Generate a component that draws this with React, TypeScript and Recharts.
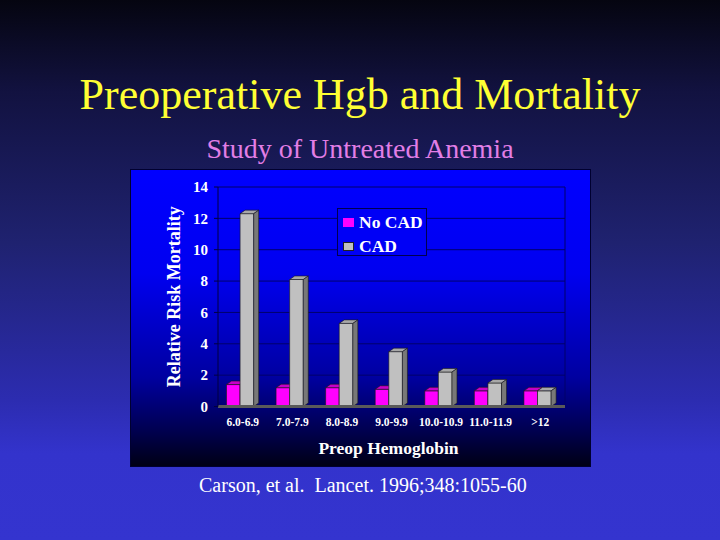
import { BarChart, Bar, XAxis, YAxis, CartesianGrid, Legend, Label } from "recharts";

const categories = ["6.0-6.9", "7.0-7.9", "8.0-8.9", "9.0-9.9", "10.0-10.9", "11.0-11.9", ">12"];
const noCad = [1.4, 1.2, 1.2, 1.1, 1.0, 1.0, 1.0];
const cad = [12.3, 8.1, 5.3, 3.5, 2.2, 1.5, 1.0];
const seriesNames = ["No CAD", "CAD"];
const yTicks = [0, 2, 4, 6, 8, 10, 12, 14];

const data = categories.map((name, i) => ({ name, noCad: noCad[i], cad: cad[i] }));

const SERIF = "Liberation Serif";
const DX = 5;
const DY = 3.5;

// excel-style 3D column: front face, lit top, shaded side
function bar3D(front: string, top: string, side: string) {
  return (props: any) => {
    const { x, y, width: w, height: h } = props;
    if (w == null || h == null || h <= 0) return <g />;
    const x0 = x - DX / 2;
    return (
      <g stroke="#1a1a1a" strokeWidth={0.6} strokeLinejoin="round">
        <rect x={x0} y={y} width={w} height={h} fill={front} />
        <polygon
          points={`${x0},${y} ${x0 + DX},${y - DY} ${x0 + w + DX},${y - DY} ${x0 + w},${y}`}
          fill={top}
        />
        <polygon
          points={`${x0 + w},${y} ${x0 + w + DX},${y - DY} ${x0 + w + DX},${y + h - DY} ${x0 + w},${y + h}`}
          fill={side}
        />
      </g>
    );
  };
}

const LegendBox = ({ payload }: any) => {
  const items = [...(payload || [])].sort(
    (a: any, b: any) => seriesNames.indexOf(a.value) - seriesNames.indexOf(b.value)
  );
  return (
    <div
      style={{
        width: 90,
        height: 48,
        border: "1px solid #000050",
        background: "#0000f6",
        boxSizing: "border-box",
        paddingTop: 4,
        fontFamily: SERIF,
        fontWeight: "bold",
        fontSize: 17.5,
        color: "#fff",
      }}
    >
      {items.map((p: any) => (
        <div key={p.value} style={{ display: "flex", alignItems: "center", height: 19, marginBottom: 5, paddingLeft: 5 }}>
          <span
            style={{
              display: "inline-block",
              width: 11,
              height: 9,
              background: p.color,
              border: p.color === "#c0c0c0" ? "1px solid #222" : "none",
              boxSizing: "border-box",
              marginRight: 5,
            }}
          />
          {p.value}
        </div>
      ))}
    </div>
  );
};

export default function App() {
  return (
    <div
      style={{
        position: "absolute",
        left: 0,
        top: 0,
        width: 720,
        height: 540,
        overflow: "hidden",
        background: "linear-gradient(180deg, #050510 0%, #121240 17%, #1f2270 45%, #2c2cb0 74%, #3333cc 84%, #3434cf 100%)",
      }}
    >
      <div
        style={{
          position: "absolute",
          top: 73,
          width: 720,
          textAlign: "center",
          fontFamily: SERIF,
          fontSize: 44,
          lineHeight: "44px",
          color: "#ffff33",
        }}
      >
        Preoperative Hgb and Mortality
      </div>
      <div
        style={{
          position: "absolute",
          top: 135,
          width: 720,
          textAlign: "center",
          fontFamily: SERIF,
          fontSize: 28,
          lineHeight: "28px",
          color: "#e27ee6",
        }}
      >
        Study of Untreated Anemia
      </div>

      <div
        style={{
          position: "absolute",
          left: 131,
          top: 170,
          width: 459,
          height: 296,
          outline: "1px solid #000030",
          background: "linear-gradient(180deg, #0000ff 0%, #0000f0 35%, #0000a0 70%, #000050 88%, #000015 100%)",
        }}
      >
        <BarChart
          width={459}
          height={296}
          data={data}
          margin={{ top: 17, right: 25, left: 0, bottom: 0 }}
          barGap={0}
          barSize={13.6}
        >
          <CartesianGrid
            stroke="#00006a"
            verticalCoordinatesGenerator={({ offset }: any) => [offset.left + offset.width]}
          />
          <XAxis
            dataKey="name"
            height={59.5}
            interval={0}
            tickLine={false}
            tickSize={0}
            tickMargin={11}
            axisLine={{ stroke: "#5a5a5a", strokeWidth: 3 }}
            tick={{ fill: "#fff", fontSize: 11.5, fontWeight: "bold", fontFamily: SERIF }}
          >
            <Label
              content={({ viewBox }: any) => (
                <text
                  x={viewBox.x + viewBox.width / 2 - 3}
                  y={viewBox.y + 47}
                  textAnchor="middle"
                  fill="#fff"
                  fontSize={17.5}
                  fontWeight="bold"
                  fontFamily={SERIF}
                >
                  Preop Hemoglobin
                </text>
              )}
            />
          </XAxis>
          <YAxis
            width={87}
            domain={[0, 14]}
            ticks={yTicks}
            interval={0}
            tickSize={4}
            tickMargin={6}
            axisLine={{ stroke: "#000040" }}
            tickLine={{ stroke: "#000040" }}
            tick={{ fill: "#fff", fontSize: 15, fontWeight: "bold", fontFamily: SERIF }}
          >
            <Label
              content={({ viewBox }: any) => {
                const cx = viewBox.x + 49;
                const cy = viewBox.y + viewBox.height / 2;
                return (
                  <text
                    x={cx}
                    y={cy}
                    transform={`rotate(-90, ${cx}, ${cy})`}
                    textAnchor="middle"
                    fill="#fff"
                    fontSize={18}
                    fontWeight="bold"
                    fontFamily={SERIF}
                  >
                    Relative Risk Mortality
                  </text>
                );
              }}
            />
          </YAxis>
          <Legend
            layout="vertical"
            align="center"
            verticalAlign="middle"
            wrapperStyle={{ left: 206, top: 38 }}
            content={<LegendBox />}
          />
          <Bar
            dataKey="noCad"
            name={seriesNames[0]}
            fill="#ff00ff"
            shape={bar3D("#ff00ff", "#c800c8", "#a000a0")}
            isAnimationActive={false}
          />
          <Bar
            dataKey="cad"
            name={seriesNames[1]}
            fill="#c0c0c0"
            shape={bar3D("#c0c0c0", "#a8a8a8", "#787878")}
            isAnimationActive={false}
          />
        </BarChart>
      </div>

      <div
        style={{
          position: "absolute",
          left: 199,
          top: 475,
          fontFamily: SERIF,
          fontSize: 20,
          lineHeight: "20px",
          color: "#fff",
          whiteSpace: "pre",
        }}
      >
        {"Carson, et al.  Lancet. 1996;348:1055-60"}
      </div>
    </div>
  );
}
